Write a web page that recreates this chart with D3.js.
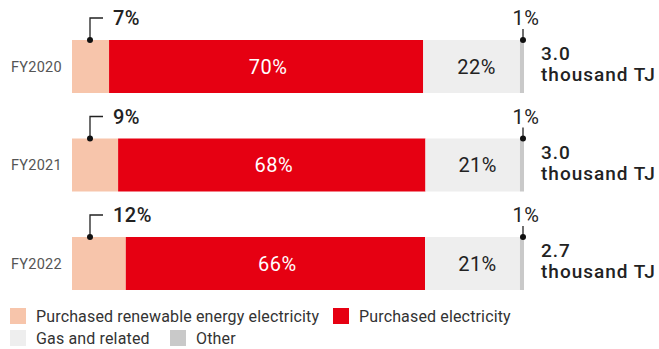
<!DOCTYPE html>
<html>
<head>
<meta charset="utf-8">
<script src="https://cdn.jsdelivr.net/npm/d3@7"></script>
<style>
	body { margin: 0; background: #fff; }
	text { font-family: Roboto, "DejaVu Sans", sans-serif; }
</style>
</head>
<body>
<script>
// years on the y axis
const years = ["FY2020", "FY2021", "FY2022"]
// share of each source, plus the rounded label shown
const renewable = [8.2, 10.2, 11.9]
const purchased = [69.5, 68.0, 66.2]
const gas = [21.4, 20.9, 21.0]
const other = [0.9, 0.9, 0.9]
const renewableLabels = ["7%", "9%", "12%"]
const purchasedLabels = ["70%", "68%", "66%"]
const gasLabels = ["22%", "21%", "21%"]
const otherLabels = ["1%", "1%", "1%"]
const totals = ["3.0", "3.0", "2.7"]
const totalUnit = "thousand TJ"

const seriesNames = ["Purchased renewable energy electricity", "Purchased electricity", "Gas and related", "Other"]
const seriesColors = ["#f7c5ab", "#e60012", "#eeeeee", "#c9c9c9"]

// build rows for the stack
const rows = years.map((y, i) => ({
	year: y,
	renewable: renewable[i],
	purchased: purchased[i],
	gas: gas[i],
	other: other[i]
}))
const keys = ["renewable", "purchased", "gas", "other"]

const width = 659, height = 349

const svg = d3.select("body").append("svg")
	.attr("width", width)
	.attr("height", height)

const x = d3.scaleLinear()
	.domain([0, 100])
	.range([72, 524])

// bars are 53px tall, 98.5px apart
const y = d3.scaleBand()
	.domain(years)
	.range([40, 290])
	.paddingInner(45.5 / 98.5)
	.paddingOuter(0)

const stack = d3.stack().keys(keys)(rows)

// the bars
svg.append("g").selectAll("g")
	.data(stack)
	.enter().append("g")
	.attr("fill", (d, i) => seriesColors[i])
	.selectAll("rect")
	.data(d => d)
	.enter().append("rect")
	.attr("x", d => x(d[0]))
	.attr("y", d => y(d.data.year))
	.attr("width", d => x(d[1]) - x(d[0]))
	.attr("height", y.bandwidth())

// year labels
svg.append("g").selectAll("text")
	.data(years)
	.enter().append("text")
	.attr("x", 62)
	.attr("y", d => y(d) + y.bandwidth() / 2)
	.attr("dy", "0.35em")
	.attr("text-anchor", "end")
	.attr("fill", "#555")
	.attr("font-size", 14.5)
	.attr("letter-spacing", 0.3)
	.text(d => d)

// labels inside the red and gray segments
const purchasedStack = stack[1], gasStack = stack[2], otherStack = stack[3]

svg.append("g").selectAll("text")
	.data(purchasedStack)
	.enter().append("text")
	.attr("x", d => (x(d[0]) + x(d[1])) / 2 + 2)
	.attr("y", d => y(d.data.year) + y.bandwidth() / 2)
	.attr("dy", "0.36em")
	.attr("text-anchor", "middle")
	.attr("fill", "#fff")
	.attr("font-size", 20)
	.attr("letter-spacing", 0.5)
	.text((d, i) => purchasedLabels[i])

svg.append("g").selectAll("text")
	.data(gasStack)
	.enter().append("text")
	.attr("x", d => (x(d[0]) + x(d[1])) / 2 + 5)
	.attr("y", d => y(d.data.year) + y.bandwidth() / 2)
	.attr("dy", "0.36em")
	.attr("text-anchor", "middle")
	.attr("fill", "#222")
	.attr("font-size", 20)
	.attr("letter-spacing", 0.5)
	.text((d, i) => gasLabels[i])

// leader for the renewable share
const leadX = 90
const lead = svg.append("g").selectAll("g")
	.data(years)
	.enter().append("g")

lead.append("path")
	.attr("d", d => {
		const top = y(d)
		return "M" + leadX + "," + top + "V" + (top - 22) + "H" + 103
	})
	.attr("fill", "none")
	.attr("stroke", "#222")
	.attr("stroke-width", 1.3)

lead.append("circle")
	.attr("cx", leadX)
	.attr("cy", d => y(d))
	.attr("r", 3)
	.attr("fill", "#111")

lead.append("text")
	.attr("x", 113)
	.attr("y", d => y(d) - 15)
	.attr("fill", "#222")
	.attr("font-size", 20)
	.attr("font-weight", 500)
	.attr("letter-spacing", 0.5)
	.text((d, i) => renewableLabels[i])

// leader for the other share
const otherLead = svg.append("g").selectAll("g")
	.data(otherStack)
	.enter().append("g")

otherLead.append("path")
	.attr("d", d => {
		const cx = x(d[1]) - 1
		const top = y(d.data.year)
		return "M" + cx + "," + top + "V" + (top - 11)
	})
	.attr("stroke", "#222")
	.attr("stroke-width", 1.3)

otherLead.append("circle")
	.attr("cx", d => x(d[1]) - 1)
	.attr("cy", d => y(d.data.year))
	.attr("r", 3)
	.attr("fill", "#111")

otherLead.append("text")
	.attr("x", d => x(d[1]) + 2)
	.attr("y", d => y(d.data.year) - 15)
	.attr("text-anchor", "middle")
	.attr("fill", "#222")
	.attr("font-size", 20)
	.attr("letter-spacing", 0.5)
	.text((d, i) => otherLabels[i])

// totals on the right
const tot = svg.append("g").selectAll("text")
	.data(years)
	.enter().append("text")
	.attr("x", 541)
	.attr("y", d => y(d) + 20)
	.attr("fill", "#222")
	.attr("font-size", 19)
	.attr("font-weight", 500)
	.attr("letter-spacing", 1)

tot.append("tspan")
	.text((d, i) => totals[i])
tot.append("tspan")
	.attr("x", 541)
	.attr("dy", 21)
	.text(totalUnit)

// legend
const legendPos = [[10, 308], [333, 308], [10, 330], [170, 330]]
const legend = svg.append("g").selectAll("g")
	.data(seriesNames)
	.enter().append("g")
	.attr("transform", (d, i) => "translate(" + legendPos[i][0] + "," + legendPos[i][1] + ")")

legend.append("rect")
	.attr("width", 16)
	.attr("height", 16)
	.attr("fill", (d, i) => seriesColors[i])

legend.append("text")
	.attr("x", 26)
	.attr("y", 8)
	.attr("dy", "0.35em")
	.attr("fill", "#333")
	.attr("font-size", 16)
	.attr("letter-spacing", 0.15)
	.text(d => d)
</script>
</body>
</html>
